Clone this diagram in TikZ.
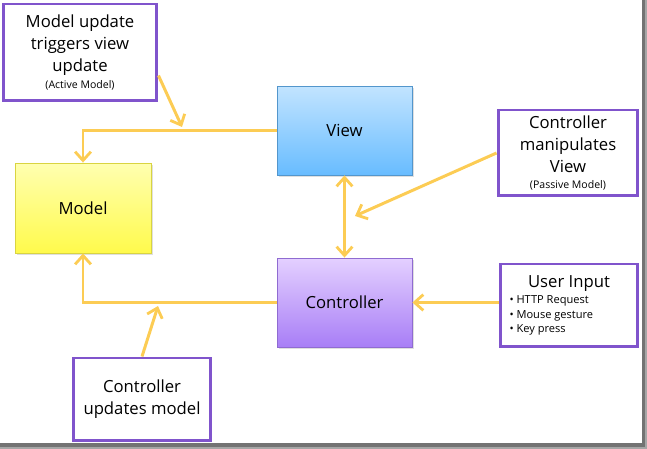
\documentclass[tikz,border=0pt]{standalone}
\usepackage{fontspec}
\setmainfont{Open Sans}
\usepackage{tikz}
\usetikzlibrary{arrows.meta, positioning, calc, shadows}
\definecolor{mvcpurple}{RGB}{128,84,204}
\definecolor{mvcarrow}{RGB}{252,204,84}
\definecolor{viewtop}{RGB}{194,228,255}
\definecolor{viewbot}{RGB}{104,188,255}
\definecolor{modeltop}{RGB}{255,255,176}
\definecolor{modelbot}{RGB}{255,250,76}
\definecolor{ctrltop}{RGB}{228,208,255}
\definecolor{ctrlbot}{RGB}{168,126,246}

\begin{document}
\begin{tikzpicture}[
  x=0.02cm, y=-0.02cm,
  part/.style={rectangle, minimum width=2.7cm, minimum height=1.78cm, align=center,
               font=\fontsize{9.5}{12}\selectfont, line width=0.5pt,
               drop shadow={shadow xshift=1.2pt, shadow yshift=-1.2pt, opacity=0.25}},
  note/.style={rectangle, draw=mvcpurple, fill=white, line width=1.7pt, align=center,
               font=\fontsize{9.5}{12.5}\selectfont, inner sep=2pt},
  arr/.style={-{Straight Barb[length=5pt, width=9pt, line width=1.6pt]}, line width=1.7pt,
              color=mvcarrow},
  darr/.style={{Straight Barb[length=5pt, width=9pt, line width=1.6pt]}-{Straight Barb[length=5pt, width=9pt, line width=1.6pt]},
               line width=1.7pt, color=mvcarrow}
]
  \useasboundingbox (0,0) rectangle (647,449);

  % frame shadow
  \fill[black!55] (642,0) rectangle (647,449);
  \fill[black!55] (0,443) rectangle (647,449);
  \fill[black!35] (645,0) rectangle (647,449);
  \fill[black!35] (0,447) rectangle (647,449);

  % Main parts
  \node[part, draw=viewbot!80!black, top color=viewtop, bottom color=viewbot]
        (view)  at (344.5, 130.5) {View};
  \node[part, draw=modelbot!85!black, top color=modeltop, bottom color=modelbot,
        minimum width=2.72cm, minimum height=1.8cm]
        (model) at (83, 208)      {Model};
  \node[part, draw=ctrlbot!85!black, top color=ctrltop, bottom color=ctrlbot]
        (ctrl)  at (344.5, 302.5) {Controller};

  % Notes
  \node[note, minimum width=3.08cm, minimum height=1.94cm] (upd)  at (80, 52.5)
        {Model update\\triggers view\\update\\[-3pt]{\fontsize{6}{7}\selectfont(Active Model)}};
  \node[note, minimum width=2.8cm, minimum height=1.72cm] (manip) at (568, 153)
        {Controller\\manipulates\\View\\[-3pt]{\fontsize{6}{7}\selectfont(Passive Model)}};
  \node[note, minimum width=2.76cm, minimum height=1.66cm, align=left,
        font=\fontsize{6.3}{8.2}\selectfont, inner xsep=0.18cm] (input) at (569, 305.5)
        {\makebox[2.38cm][c]{\fontsize{9.5}{12}\selectfont User Input}\\[1pt]
         • HTTP Request\\• Mouse gesture\\• Key press};
  \node[note, minimum width=2.76cm, minimum height=1.66cm] (cupd) at (142, 399.5)
        {Controller\\updates model};

  % Arrows
  \coordinate (hitv) at (182, 127);
  \coordinate (hitm) at (158, 306);
  \coordinate (hitc) at (355, 216);

  \draw[arr] (view.west) -| (model.north);
  \draw[arr] (ctrl.west) -| (model.south);
  \draw[darr] (view.south) -- (ctrl.north);

  \draw[arr] ($(upd.east)+(0,23)$) -- (hitv);
  \draw[arr] (cupd.north) -- (hitm);
  \draw[arr] (manip.west) -- (hitc);
  \draw[arr] (input.west |- ctrl.east) -- (ctrl.east);

\end{tikzpicture}
\end{document}
